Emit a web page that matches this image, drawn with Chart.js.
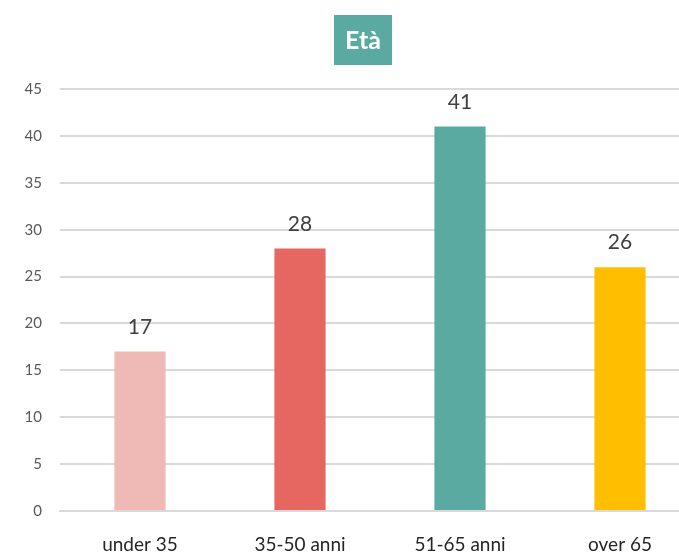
<!DOCTYPE html>
<html>
<head>
<meta charset="utf-8">
<script src="https://cdn.jsdelivr.net/npm/chart.js@4"></script>
<style>
  html, body { margin: 0; padding: 0; background: #fff; overflow: hidden; }
  #wrap { width: 700px; height: 554px; }
</style>
</head>
<body>
<div id="wrap"><canvas id="etaChart"></canvas></div>
<script>
// dati
const categorie = ['under 35', '35-50 anni', '51-65 anni', 'over 65'];
const valori = [17, 28, 41, 26];
const colori = ['#efbab5', '#e66761', '#5aaaa2', '#ffbf00'];
const titolo = 'Età';

// titolo su riquadro verde
const titleBox = {
  id: 'titleBox',
  afterDraw(chart) {
    const ctx = chart.ctx;
    ctx.save();
    ctx.fillStyle = '#5aaaa2';
    ctx.fillRect(334, 15, 58, 50);
    ctx.fillStyle = '#fff';
    ctx.font = 'bold 25px Lato';
    ctx.textAlign = 'center';
    ctx.textBaseline = 'middle';
    ctx.fillText(titolo, 363, 41);
    ctx.restore();
  }
};

// etichette sopra le barre
const valueLabels = {
  id: 'valueLabels',
  afterDatasetsDraw(chart) {
    const ctx = chart.ctx;
    const meta = chart.getDatasetMeta(0);
    ctx.save();
    ctx.fillStyle = '#404040';
    ctx.font = '21px Lato';
    ctx.textAlign = 'center';
    ctx.textBaseline = 'bottom';
    meta.data.forEach((bar, i) => {
      ctx.fillText(valori[i], bar.x, bar.y - 14);
    });
    ctx.restore();
  }
};

new Chart(document.getElementById('etaChart'), {
  type: 'bar',
  data: {
    labels: categorie,
    datasets: [{
      data: valori,
      backgroundColor: colori,
      barPercentage: 0.32,
      categoryPercentage: 1
    }]
  },
  options: {
    responsive: true,
    maintainAspectRatio: false,
    animation: false,
    layout: { padding: { top: 89, left: 0, right: 0, bottom: 0 } },
    plugins: { legend: { display: false }, tooltip: { enabled: false } },
    scales: {
      x: {
        grid: { display: false },
        border: { color: '#d9d9d9', width: 2 },
        ticks: { color: '#262626', font: { family: 'Lato', size: 19 }, padding: 14, maxRotation: 0 },
        afterFit(s) { s.height = 43; }
      },
      y: {
        min: 0, max: 45,
        ticks: { stepSize: 5, color: '#595959', font: { family: 'Lato', size: 15 }, padding: 18 },
        grid: { color: '#d9d9d9', lineWidth: 2, drawTicks: false },
        border: { display: false },
        afterFit(s) { s.width = 60; }
      }
    }
  },
  plugins: [titleBox, valueLabels]
});
</script>
</body>
</html>
